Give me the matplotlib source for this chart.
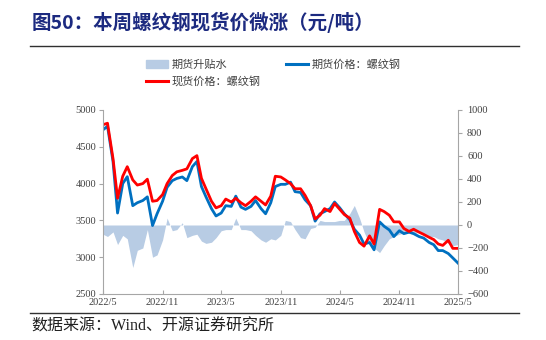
import numpy as np
import pandas as pd
import matplotlib
matplotlib.use("Agg")
import matplotlib.pyplot as plt
from matplotlib.lines import Line2D
from matplotlib.patches import Patch
from matplotlib.ticker import FuncFormatter
import matplotlib.dates as mdates

plt.rcParams['font.family'] = ['Liberation Serif', 'Noto Sans CJK SC', 'DejaVu Sans']

# semi-monthly readings, 2022/5 - 2025/5
dates = pd.date_range("2022-05-01", periods=73, freq="SMS")

# 现货价格：螺纹钢 (left axis)
spot = [4800, 4820, 4340, 3800, 4100, 4230, 4050, 3980, 4000, 4060,
        3760, 3770, 3850, 4000, 4110, 4160, 4180, 4200, 4340, 4380,
        4072, 3930, 3760, 3670, 3700, 3790, 3750, 3800, 3740, 3700,
        3760, 3820, 3760, 3710, 3830, 4100, 4090, 4050, 4000, 3930,
        3930, 3840, 3700, 3520, 3570, 3660, 3620, 3730, 3650, 3580,
        3530, 3350, 3200, 3150, 3290, 3180, 3650, 3620, 3570, 3480,
        3480, 3390, 3350, 3380, 3340, 3310, 3270, 3240, 3180, 3160,
        3230, 3120, 3120]

# 期货价格：螺纹钢 (left axis)
futures = [4730, 4780, 4300, 3600, 4000, 4094, 3700, 3740, 3770, 3820,
           3430, 3590, 3760, 3950, 4040, 4070, 4090, 4040, 4230, 4300,
           3960, 3820, 3660, 3560, 3600, 3700, 3690, 3830, 3680, 3650,
           3690, 3770, 3660, 3590, 3740, 3960, 3990, 3990, 4020, 3890,
           3880, 3780, 3700, 3490, 3590, 3620, 3660, 3750, 3670, 3590,
           3510, 3380, 3300, 3180, 3200, 3100, 3480, 3420, 3370, 3280,
           3360, 3320, 3340, 3320, 3280, 3260, 3200, 3170, 3090, 3090,
           3050, 2990, 2920]

# 期货升贴水 (right axis)
basis = [-80, -100, -60, -170, -90, -120, -370, -220, -200, -40,
         -280, -260, -130, 60, -50, -40, 20, -110, -90, -80,
         -140, -160, -150, -110, -50, -40, -40, 60, -40, -40,
         -50, -90, -130, -150, -120, -130, -90, 40, 30, -40,
         -110, -120, -30, -20, 40, 30, 30, 30, 40, 40,
         100, 170, 60, -60, -170, -200, -240, -180, -120, -100,
         -80, -70, -70, -80, -60, -80, -100, -100, -120, -130,
         -160, -180, -170]

left_ticks = [2500, 3000, 3500, 4000, 4500, 5000]
right_ticks = [-600, -400, -200, 0, 200, 400, 600, 800, 1000]

red = "#FF0000"
blue = "#0070C0"
area_c = "#B8CCE4"
grey = "#A6A6A6"
txt = "#404040"

fig = plt.figure(figsize=(5.46, 3.4), dpi=100)
ax = fig.add_axes([0.1886, 0.1353, 0.6502, 0.5412])
ax2 = ax.twinx()

ax2.fill_between(dates, 0, basis, color=area_c, linewidth=0)
ax.plot(dates, futures, color=blue, lw=2.0)
ax.plot(dates, spot, color=red, lw=2.0)

ax.set_zorder(ax2.get_zorder() + 1)
ax.patch.set_visible(False)

ax.set_ylim(2500, 5000)
ax.set_yticks(left_ticks)
ax2.set_ylim(-600, 1000)
ax2.set_yticks(right_ticks)
ax.set_xlim(pd.Timestamp("2022-05-01"), pd.Timestamp("2025-05-01"))
ax.xaxis.set_major_locator(mdates.MonthLocator(bymonth=[5, 11]))
ax.xaxis.set_major_formatter(FuncFormatter(
    lambda v, p: f"{mdates.num2date(v).year}/{mdates.num2date(v).month}"))

for a in (ax, ax2):
    a.spines['top'].set_visible(False)
    for s in a.spines.values():
        s.set_color(grey)
    a.tick_params(labelsize=7.5, colors=txt, length=3, width=0.8)
    a.tick_params(color=grey)
ax.spines['right'].set_visible(False)
ax2.spines['left'].set_visible(False)
ax2.spines['bottom'].set_visible(False)
ax.tick_params(axis='x', direction='in', pad=3)
ax.tick_params(axis='y', pad=2)

handles = [Patch(color=area_c), Line2D([], [], color=red, lw=2.2),
           Line2D([], [], color=blue, lw=2.2)]
labels = ["期货升贴水", "现货价格：螺纹钢", "期货价格：螺纹钢"]
fig.legend(handles, labels, ncol=2, loc="upper center",
           bbox_to_anchor=(0.5, 0.855), frameon=False,
           prop={'family': ['Noto Sans CJK SC'], 'size': 8},
           labelcolor=txt, handlelength=2.0, handletextpad=0.3,
           columnspacing=2.3, labelspacing=0.5)

fig.text(0.058, 0.935, "图50：本周螺纹钢现货价微涨（元/吨）", fontsize=14,
         fontweight="bold", color="#1C2A80", family=['Noto Sans CJK SC'],
         va="center", ha="left")
fig.add_artist(Line2D([0.055, 0.95], [0.865, 0.865], color="#303030", lw=1.0))
fig.add_artist(Line2D([0.055, 0.95], [0.079, 0.079], color="#303030", lw=1.0))
fig.text(0.058, 0.040, "数据来源：Wind、开源证券研究所", fontsize=11.5,
         color="#202020", va="center", ha="left")

fig.savefig("out.png", dpi=100)
